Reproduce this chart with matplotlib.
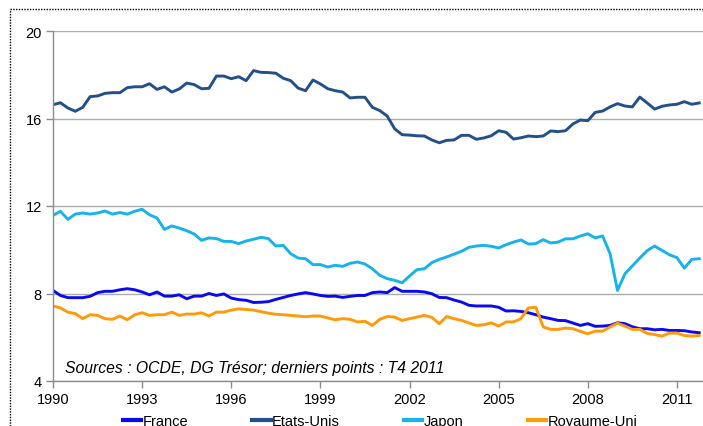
import matplotlib
matplotlib.use("Agg")
import matplotlib.pyplot as plt
from matplotlib.lines import Line2D
import numpy as np

plt.rcParams['font.family'] = ['Liberation Sans', 'DejaVu Sans']

start_year = 1990
france = [8.14, 7.91, 7.81, 7.81, 7.81, 7.87, 8.04, 8.1, 8.1, 8.17, 8.22, 8.17, 8.07, 7.94, 8.07, 7.88,
          7.88, 7.94, 7.76, 7.88, 7.88, 8.0, 7.91, 7.98, 7.79, 7.72, 7.69, 7.59, 7.6, 7.63, 7.73, 7.82,
          7.91, 7.98, 8.04, 7.98, 7.91, 7.87, 7.88, 7.82, 7.87, 7.91, 7.91, 8.04, 8.07, 8.04, 8.27, 8.1,
          8.1, 8.1, 8.07, 7.99, 7.82, 7.81, 7.7, 7.61, 7.46, 7.43, 7.43, 7.43, 7.37, 7.2, 7.21, 7.18,
          7.12, 7.03, 6.92, 6.85, 6.77, 6.76, 6.65, 6.54, 6.62, 6.5, 6.51, 6.54, 6.66, 6.62, 6.48, 6.39,
          6.39, 6.34, 6.36, 6.31, 6.31, 6.3, 6.24, 6.21]
etats_unis = [16.63, 16.72, 16.48, 16.33, 16.51, 17.0, 17.03, 17.15, 17.18, 17.18, 17.41, 17.45, 17.45, 17.59,
              17.33, 17.45, 17.21, 17.35, 17.62, 17.55, 17.36, 17.38, 17.94, 17.94, 17.82, 17.91, 17.73, 18.19,
              18.11, 18.1, 18.07, 17.84, 17.73, 17.39, 17.27, 17.76, 17.58, 17.36, 17.27, 17.21, 16.94, 16.97,
              16.97, 16.51, 16.36, 16.11, 15.53, 15.26, 15.24, 15.21, 15.2, 15.02, 14.89, 15.0, 15.02, 15.23,
              15.23, 15.05, 15.11, 15.21, 15.44, 15.37, 15.06, 15.12, 15.2, 15.17, 15.2, 15.43, 15.4, 15.44,
              15.75, 15.93, 15.9, 16.28, 16.34, 16.53, 16.68, 16.57, 16.53, 16.98, 16.71, 16.43, 16.56, 16.62,
              16.65, 16.77, 16.65, 16.71]
japon = [11.57, 11.76, 11.39, 11.63, 11.68, 11.63, 11.68, 11.77, 11.63, 11.70, 11.63, 11.76, 11.85, 11.6,
         11.45, 10.93, 11.09, 10.99, 10.87, 10.72, 10.43, 10.54, 10.51, 10.38, 10.38, 10.28, 10.4, 10.48,
         10.57, 10.51, 10.17, 10.2, 9.82, 9.62, 9.59, 9.32, 9.32, 9.21, 9.29, 9.24, 9.38, 9.44, 9.35, 9.13,
         8.83, 8.68, 8.6, 8.49, 8.8, 9.09, 9.13, 9.41, 9.56, 9.67, 9.8, 9.93, 10.11, 10.17, 10.2, 10.16,
         10.08, 10.23, 10.35, 10.45, 10.26, 10.28, 10.46, 10.31, 10.35, 10.5, 10.5, 10.63, 10.73, 10.54,
         10.63, 9.82, 8.14, 8.9, 9.26, 9.62, 9.96, 10.17, 9.97, 9.77, 9.64, 9.16, 9.56, 9.59]
royaume_uni = [7.43, 7.34, 7.15, 7.08, 6.85, 7.03, 7.0, 6.85, 6.82, 6.97, 6.80, 7.03, 7.12, 7.0, 7.03, 7.03,
               7.15, 7.0, 7.06, 7.06, 7.12, 6.97, 7.15, 7.15, 7.24, 7.3, 7.27, 7.24, 7.17, 7.1, 7.05, 7.03,
               7.0, 6.97, 6.94, 6.97, 6.97, 6.88, 6.8, 6.85, 6.82, 6.7, 6.73, 6.54, 6.82, 6.95, 6.92, 6.77,
               6.85, 6.92, 7.0, 6.91, 6.62, 6.95, 6.85, 6.77, 6.65, 6.54, 6.57, 6.66, 6.51, 6.7, 6.7, 6.85,
               7.34, 7.37, 6.47, 6.36, 6.36, 6.42, 6.39, 6.27, 6.16, 6.28, 6.28, 6.47, 6.64, 6.51, 6.36, 6.36,
               6.18, 6.12, 6.05, 6.19, 6.19, 6.08, 6.05, 6.08]

series_names = ["France", "Etats-Unis", "Japon", "Royaume-Uni"]
series_colors = ["#0A0AF0", "#24508A", "#18B2EC", "#FF9A0A"]
xtick_years = [1990, 1993, 1996, 1999, 2002, 2005, 2008, 2011]
ytick_values = [4, 8, 12, 16, 20]
source_text = "Sources : OCDE, DG Trésor; derniers points : T4 2011"

t = start_year + np.arange(len(france)) / 4.0

W, H = 703, 427
fig = plt.figure(figsize=(W / 100, H / 100), dpi=100)
ax = fig.add_axes([53 / W, 1 - 382 / H, (22 * 29.71) / W, 350 / H])

for name, vals, col in zip(series_names, [france, etats_unis, japon, royaume_uni], series_colors):
    ax.plot(t, vals, color=col, lw=2.1, label=name, solid_joinstyle='round')

ax.set_xlim(1990, 2012)
ax.set_ylim(4, 20)
ax.set_xticks(xtick_years)
ax.set_xticklabels([str(y) for y in xtick_years])
ax.set_yticks(ytick_values)
ax.set_yticklabels([str(v) for v in ytick_values])
ax.yaxis.grid(True, color="#ADADAD", lw=1.0)
ax.set_axisbelow(True)
for s in ["top", "right"]:
    ax.spines[s].set_visible(False)
for s in ["left", "bottom"]:
    ax.spines[s].set_color("#8C8C8C")
    ax.spines[s].set_linewidth(1.0)
ax.tick_params(axis='both', direction='out', length=5, width=1.0, color="#8C8C8C",
               labelsize=10.5, labelcolor="black", pad=3)

fig.text(65 / W, 1 - 373 / H, source_text, style='italic', fontsize=11.3, va='baseline', ha='left')

handles = [Line2D([0], [0], color=c, lw=3) for c in series_colors]
fig.legend(handles, series_names, loc='center', bbox_to_anchor=(380 / W, 1 - 422 / H),
           ncol=4, frameon=False, fontsize=10.5, handlelength=1.25, handletextpad=0.1,
           columnspacing=4.4, borderpad=0, borderaxespad=0)

# dotted frame
fig.add_artist(Line2D([10 / W, 1.0], [1 - 10 / H, 1 - 10 / H], transform=fig.transFigure,
                      color="black", lw=1.0, linestyle=(0, (1, 1))))
fig.add_artist(Line2D([10 / W, 10 / W], [0, 1 - 10 / H], transform=fig.transFigure,
                      color="black", lw=1.0, linestyle=(0, (1, 1))))

fig.savefig("out.png", dpi=100)
